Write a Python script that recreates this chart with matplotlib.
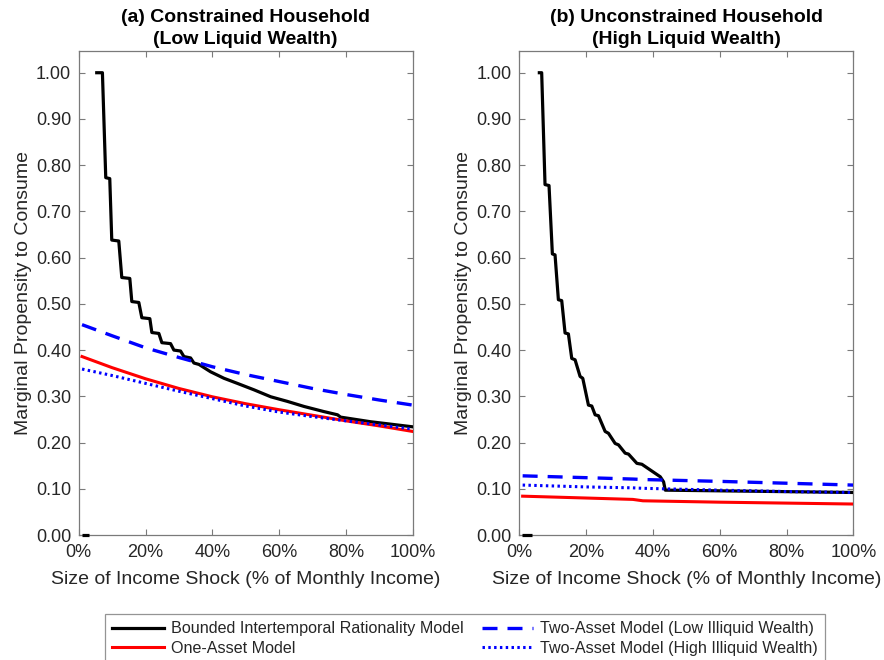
import numpy as np
import matplotlib
matplotlib.use("Agg")
import matplotlib.pyplot as plt

plt.rcParams['font.family'] = ['Liberation Sans', 'DejaVu Sans']

nan = np.nan

# ---------------- Data ----------------
titles = ["(a) Constrained Household\n(Low Liquid Wealth)",
          "(b) Unconstrained Household\n(High Liquid Wealth)"]

# Panel (a) - Bounded Intertemporal Rationality Model (staircase)
bir_a_x = [1, 3, nan, 5.4, 7.1, 8.1, 9.3, 9.9, 12.0, 12.9, 15.3, 15.9, 18.0, 18.9, 21.3,
           21.9, 24.0, 24.9, 27.5, 28.5, 30.5, 31.5, 33.5, 34.5, 36.0, 39.5, 43.5, 47.5,
           52.5, 57.5, 62.5, 67.5, 73.4, 77.5, 78.4, 87.4, 100]
bir_a_y = [0, 0, nan, 1.0, 1.0, 0.773, 0.771, 0.638, 0.636, 0.557, 0.555, 0.505, 0.503,
           0.470, 0.468, 0.438, 0.436, 0.416, 0.414, 0.400, 0.398, 0.386, 0.383, 0.372,
           0.369, 0.353, 0.339, 0.328, 0.314, 0.299, 0.289, 0.278, 0.267, 0.260, 0.255,
           0.245, 0.234]

grid_x = [1, 10, 20, 30, 40, 50, 60, 70, 80, 90, 100]
one_asset_a = [0.386, 0.362, 0.338, 0.317, 0.299, 0.284, 0.271, 0.259, 0.247, 0.236, 0.224]
two_low_a = [0.455, 0.431, 0.405, 0.384, 0.364, 0.347, 0.332, 0.317, 0.304, 0.292, 0.281]
two_high_a = [0.359, 0.345, 0.328, 0.311, 0.295, 0.279, 0.266, 0.256, 0.247, 0.238, 0.229]

# Panel (b)
bir_b_x = [0.7, 3.7, nan, 6.0, 6.7, 7.7, 8.9, 9.9, 10.7, 11.7, 12.7, 13.7, 14.7, 15.7,
           16.7, 18.2, 19.0, 20.7, 21.7, 22.7, 23.7, 25.7, 26.7, 28.7, 29.7, 31.7, 32.7,
           35.2, 36.7, 42.2, 43.2, 43.7, 100]
bir_b_y = [0, 0, nan, 1.0, 1.0, 0.758, 0.756, 0.608, 0.606, 0.509, 0.507, 0.437, 0.435,
           0.382, 0.379, 0.343, 0.339, 0.281, 0.279, 0.260, 0.258, 0.224, 0.220, 0.198,
           0.195, 0.177, 0.175, 0.155, 0.153, 0.126, 0.115, 0.097, 0.092]

grid_b_x = [1, 20, 34, 37, 60, 80, 100]
one_asset_b = [0.084, 0.080, 0.077, 0.074, 0.071, 0.069, 0.067]
two_low_b = [0.128, 0.124, 0.121, 0.120, 0.116, 0.112, 0.108]
two_high_b = [0.108, 0.104, 0.102, 0.101, 0.097, 0.094, 0.092]

yticks = [0.0, 0.1, 0.2, 0.3, 0.4, 0.5, 0.6, 0.7, 0.8, 0.9, 1.0]
xticks = [0, 20, 40, 60, 80, 100]
xticklabels = ["0%", "20%", "40%", "60%", "80%", "100%"]

labels = ["Bounded Intertemporal Rationality Model", "One-Asset Model",
          "Two-Asset Model (Low Illiquid Wealth)", "Two-Asset Model (High Illiquid Wealth)"]

# ---------------- Figure ----------------
fig = plt.figure(figsize=(8.84, 6.6), dpi=100)
W, H = 884, 660
def ax_rect(x0, x1, ytop, ybot):
    return [x0 / W, 1 - ybot / H, (x1 - x0) / W, (ybot - ytop) / H]

axA = fig.add_axes(ax_rect(78.7, 412.7, 51, 535))
axB = fig.add_axes(ax_rect(519.3, 853.3, 51, 535))

spine_col = '#7a7a7a'
txt_col = '#262626'

panels = [
    (axA, bir_a_x, bir_a_y, grid_x, one_asset_a, two_low_a, two_high_a, titles[0]),
    (axB, bir_b_x, bir_b_y, grid_b_x, one_asset_b, two_low_b, two_high_b, titles[1]),
]

handles = None
for ax, bx, by, gx, oa, tl, th, title in panels:
    bx = np.array(bx, dtype=float)
    by = np.array(by, dtype=float)
    ax.plot(bx[:2], by[:2], color='black', lw=2.3, clip_on=False, zorder=3,
            solid_capstyle='butt')
    h1, = ax.plot(bx[3:], by[3:], color='black', lw=2.3, zorder=3)
    h2, = ax.plot(gx, oa, color='#ff0000', lw=2.2, zorder=3)
    h3, = ax.plot(gx, tl, color='#0000ff', lw=2.4, ls=(0, (4.5, 3.0)), zorder=3)
    h4, = ax.plot(gx, th, color='#0000ff', lw=2.2, ls=(0, (0.8, 1.1)), zorder=4)
    handles = [h1, h2, h3, h4]

    ax.set_xlim(0, 100)
    ax.set_ylim(0, 1.047)
    ax.set_xticks(xticks)
    ax.set_xticklabels(xticklabels)
    ax.set_yticks(yticks)
    ax.set_yticklabels([f"{v:.2f}" for v in yticks])
    ax.tick_params(direction='in', top=True, right=True, length=4, width=0.8,
                   color=spine_col, labelcolor=txt_col, labelsize=13)
    ax.tick_params(axis='x', pad=6.5)
    ax.tick_params(axis='y', pad=5.5)
    for s in ax.spines.values():
        s.set_color(spine_col)
        s.set_linewidth(0.9)
    ax.set_xlabel("Size of Income Shock (% of Monthly Income)", fontsize=14,
                  color=txt_col, labelpad=7)
    ax.set_ylabel("Marginal Propensity to Consume", fontsize=14, color=txt_col,
                  labelpad=3)
    ax.set_title(title, fontsize=14, fontweight='bold', color='black', pad=5,
                 linespacing=1.4)

leg = fig.legend(handles, labels, ncol=2,
                 loc='upper left', bbox_to_anchor=(105 / W, 1 - 614 / H),
                 bbox_transform=fig.transFigure, fontsize=11.6, frameon=True,
                 fancybox=False, edgecolor=spine_col, handlelength=3.2,
                 columnspacing=1.1, borderpad=0.45, labelspacing=0.3,
                 handletextpad=0.45, borderaxespad=0)
leg.get_frame().set_linewidth(0.9)
for t in leg.get_texts():
    t.set_color(txt_col)

fig.savefig("out.png", dpi=100)
